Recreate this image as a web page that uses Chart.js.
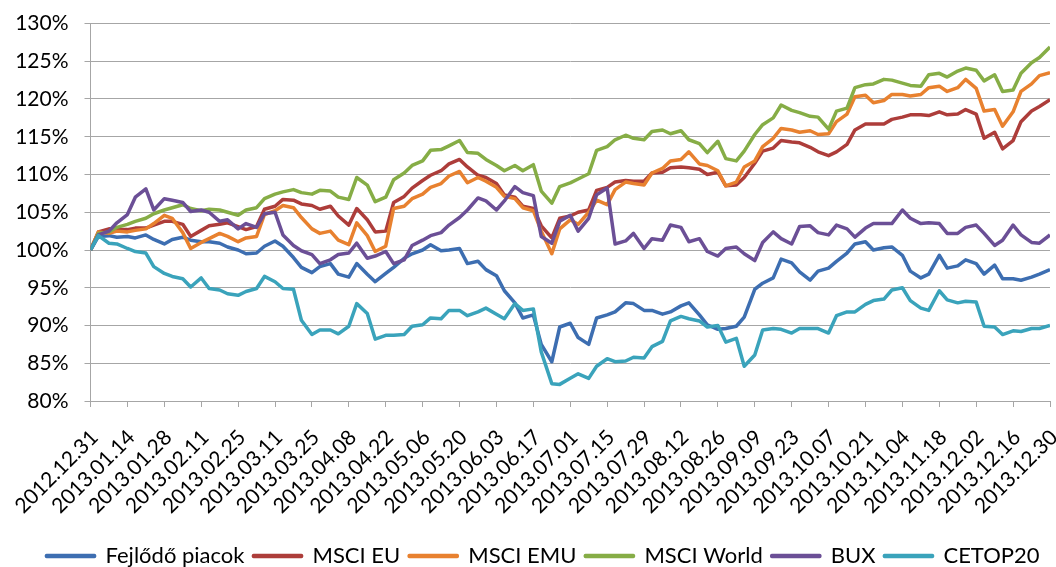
<!DOCTYPE html>
<html>
<head>
<meta charset="utf-8">
<script src="https://cdn.jsdelivr.net/npm/chart.js@4/dist/chart.umd.min.js"></script>
<style>
  body { margin: 0; background: #fff; }
  #wrap { width: 1056px; height: 567px; position: relative; }
</style>
</head>
<body>
<div id="wrap"><canvas id="lineChart"></canvas></div>
<script>
// tick labels on the x axis (every second Monday)
const tickLabels = [
  '2012.12.31', '2013.01.14', '2013.01.28', '2013.02.11', '2013.02.25', '2013.03.11',
  '2013.03.25', '2013.04.08', '2013.04.22', '2013.05.06', '2013.05.20', '2013.06.03',
  '2013.06.17', '2013.07.01', '2013.07.15', '2013.07.29', '2013.08.12', '2013.08.26',
  '2013.09.09', '2013.09.23', '2013.10.07', '2013.10.21', '2013.11.04', '2013.11.18',
  '2013.12.02', '2013.12.16', '2013.12.30'
];

// sample days (Mondays and Thursdays, counted from 2012.12.31)
const sampleDays = [];
for (let w = 0; w <= 52; w++) {
  sampleDays.push(w * 7);
  if (w < 52) sampleDays.push(w * 7 + 3);
}

const seriesNames = ['Fejlődő piacok', 'MSCI EU', 'MSCI EMU', 'MSCI World', 'BUX', 'CETOP20'];

const emerging = [
  100, 101.8, 101.9, 101.7, 101.8, 101.6, 102.0, 101.4, 100.8, 101.4, 101.7, 101.3, 101.1, 101.1, 100.9, 100.4, 100.0, 99.5, 99.6, 100.5, 101.2,
  100.5, 99.0, 97.7, 97.0, 97.8, 98.2, 96.8, 96.4, 98.2, 96.8, 95.8, 96.9, 97.7, 98.9, 99.5, 100.0, 100.7, 99.9, 100.0, 100.2, 98.2,
  98.5, 97.4, 96.6, 94.6, 93.0, 91.0, 91.4, 87.5, 85.2, 89.8, 90.3, 88.4, 87.5, 91.0, 91.4, 91.8, 93.0, 92.9, 92.0, 92.0,
  91.5, 91.8, 92.6, 93.0, 91.4, 90.1, 89.5, 89.6, 89.9, 91.1, 94.8, 95.6, 96.3, 98.8, 98.3, 97.1, 96.0, 97.2, 97.6, 98.5, 99.6,
  100.8, 101.1, 100.0, 100.3, 100.4, 99.3, 97.2, 96.3, 96.8, 99.3, 97.6, 97.9, 98.7, 98.2, 96.8, 98.0, 96.2, 96.2, 96.0, 96.4, 96.8, 97.4
];

const msciEu = [
  100, 102.4, 102.8, 102.7, 102.7, 102.9, 102.9, 103.3, 103.8, 103.8, 103.4, 101.8, 102.6, 103.2, 103.4, 103.6, 103.1, 102.7, 103.1, 105.4, 105.8,
  106.7, 106.6, 106.1, 105.9, 105.4, 105.8, 104.5, 103.3, 105.5, 104.0, 102.4, 102.5, 106.3, 107.1, 108.2, 109.2, 109.9, 110.5, 111.4, 112.0, 111.0,
  109.9, 109.6, 108.8, 107.3, 107.0, 105.8, 105.5, 103.2, 101.6, 104.2, 104.5, 105.0, 105.3, 107.9, 108.3, 109.0, 109.2, 109.1, 109.1, 110.2,
  110.3, 110.9, 111.0, 110.9, 110.7, 110.0, 110.3, 108.5, 108.6, 109.6, 111.5, 113.1, 113.5, 114.5, 114.3, 114.2, 113.6, 113.0, 112.5, 113.0, 114.0,
  115.9, 116.7, 116.7, 116.7, 117.3, 117.6, 117.9, 117.9, 117.8, 118.3, 117.9, 118.0, 118.6, 118.0, 114.8, 115.6, 113.4, 114.5, 117.0, 118.4, 119.0, 119.9
];

const msciEmu = [
  100, 102.4, 102.2, 102.5, 102.4, 102.6, 102.8, 103.5, 104.6, 104.2, 102.3, 100.2, 101.0, 101.5, 102.2, 101.8, 101.1, 101.6, 101.8, 104.7, 105.2,
  105.9, 105.6, 104.3, 102.8, 102.2, 102.5, 101.3, 100.7, 103.6, 101.9, 99.8, 100.5, 105.5, 105.8, 106.8, 107.4, 108.3, 108.8, 109.8, 110.4, 108.9,
  109.6, 109.1, 108.3, 107.1, 106.8, 105.6, 105.2, 102.5, 99.5, 102.8, 104.0, 103.4, 105.0, 106.6, 106.0, 108.0, 109.0, 108.8, 108.6, 110.2,
  110.8, 111.8, 112.0, 113.0, 111.4, 111.2, 110.5, 108.5, 109.0, 111.0, 111.8, 113.7, 114.8, 116.1, 115.9, 115.6, 115.8, 115.3, 115.4, 117.0, 118.0,
  120.3, 120.5, 119.5, 119.8, 120.6, 120.6, 120.4, 120.6, 121.5, 121.7, 121.0, 121.5, 122.6, 121.4, 118.4, 118.6, 116.4, 118.3, 121.0, 122.0, 123.1, 123.5
];

const msciWorld = [
  100, 102.2, 102.4, 103.0, 103.4, 103.8, 104.2, 104.8, 105.3, 105.6, 106.0, 105.5, 105.2, 105.4, 105.3, 105.0, 104.6, 105.3, 105.6, 106.8, 107.4,
  107.7, 108.0, 107.6, 107.4, 107.9, 107.8, 107.0, 106.7, 109.6, 108.6, 106.4, 107.0, 109.3, 110.2, 111.2, 111.8, 113.2, 113.3, 113.8, 114.5, 112.9,
  112.8, 112.0, 111.2, 110.5, 111.2, 110.5, 111.3, 107.8, 106.2, 108.4, 108.9, 109.4, 110.1, 113.2, 113.7, 114.6, 115.2, 114.8, 114.6, 115.7,
  115.9, 115.4, 115.8, 114.6, 114.1, 112.9, 114.4, 112.1, 111.8, 113.1, 115.3, 116.6, 117.5, 119.2, 118.5, 118.2, 117.7, 117.6, 116.0, 118.4, 118.8,
  121.5, 121.9, 122.0, 122.6, 122.5, 122.1, 121.8, 121.7, 123.2, 123.4, 122.9, 123.7, 124.1, 123.8, 122.4, 123.2, 121.0, 121.2, 123.4, 124.8, 125.5, 126.9
];

const bux = [
  100, 102.0, 102.5, 103.6, 104.7, 107.0, 108.1, 105.3, 106.8, 106.6, 106.3, 105.1, 105.3, 105.0, 103.8, 104.0, 102.8, 103.5, 103.0, 104.8, 105.0,
  102.0, 100.6, 99.9, 99.4, 98.2, 98.7, 99.4, 99.6, 100.9, 98.9, 99.2, 99.8, 98.2, 98.7, 100.6, 101.3, 101.9, 102.3, 103.3, 104.3, 105.3,
  106.9, 106.5, 105.3, 106.5, 108.4, 107.6, 107.2, 101.8, 100.9, 103.8, 104.6, 102.5, 104.2, 107.3, 108.2, 100.8, 101.2, 102.2, 100.2, 101.5,
  101.3, 103.3, 103.0, 101.1, 101.5, 99.8, 99.2, 100.2, 100.4, 99.5, 98.6, 101.0, 102.4, 101.5, 100.8, 103.1, 103.2, 102.3, 102.0, 103.3, 102.8,
  101.7, 102.9, 103.5, 103.5, 103.5, 105.3, 104.2, 103.5, 103.6, 103.5, 102.2, 102.2, 103.0, 103.3, 102.2, 100.6, 101.3, 103.3, 102.0, 101.0, 100.9, 102.0
];

const cetop20 = [
  100, 101.9, 100.9, 100.8, 100.2, 99.8, 99.6, 97.8, 96.9, 96.5, 96.2, 95.1, 96.3, 94.9, 94.7, 94.2, 94.0, 94.5, 94.9, 96.5, 95.8,
  94.9, 94.8, 90.7, 88.8, 89.4, 89.4, 88.9, 89.9, 92.9, 91.6, 88.2, 88.7, 88.7, 88.8, 89.9, 90.1, 91.0, 90.9, 92.0, 92.0, 91.3,
  91.8, 92.3, 91.5, 90.9, 92.9, 92.0, 92.2, 86.5, 82.3, 82.2, 83.0, 83.6, 83.0, 84.6, 85.6, 85.2, 85.3, 85.8, 85.7, 87.2,
  87.9, 90.6, 91.2, 90.9, 90.6, 89.8, 90.0, 87.8, 88.3, 84.6, 86.1, 89.4, 89.6, 89.5, 89.0, 89.6, 89.6, 89.6, 89.0, 91.3, 91.8,
  91.8, 92.8, 93.3, 93.5, 94.7, 95.0, 93.3, 92.3, 92.0, 94.6, 93.4, 93.0, 93.2, 93.1, 89.9, 89.8, 88.8, 89.3, 89.2, 89.6, 89.6, 90.0
];

const seriesValues = [emerging, msciEu, msciEmu, msciWorld, bux, cetop20];
const seriesColors = ['#3d6eb1', '#ad3d3a', '#e8812f', '#86ad46', '#6b4f96', '#3aa3bb'];

const FONT = 'Lato, "Open Sans", sans-serif';
const GRID = '#a6a6a6';

const datasets = seriesNames.map((name, k) => ({
  label: name,
  data: sampleDays.map((d, i) => ({ x: d, y: seriesValues[k][i] })),
  borderColor: seriesColors[k],
  backgroundColor: seriesColors[k],
  borderWidth: 3.5,
  pointRadius: 0,
  tension: 0,
  borderJoinStyle: 'round',
  order: seriesNames.length - k   // later series drawn on top, like the original
}));

// the original legend sits a bit right of the page centre
const legendShift = {
  id: 'legendShift',
  afterLayout(chart) {
    chart.legend.left += 18;
    chart.legend.right += 18;
  }
};

const config = {
  type: 'line',
  data: { datasets },
  plugins: [legendShift],
  options: {
    responsive: true,
    maintainAspectRatio: false,
    animation: false,
    layout: { padding: { top: 0, right: 6, left: 0, bottom: -10 } },
    scales: {
      x: {
        type: 'linear',
        min: 0,
        max: 364,
        afterFit: (s) => { s.height = 135; s.paddingLeft = 0; s.paddingRight = 0; },
        ticks: {
          stepSize: 14,
          autoSkip: false,
          maxRotation: 45,
          minRotation: 45,
          color: '#000',
          font: { family: FONT, size: 21 },
          padding: 18,
          labelOffset: 4,
          callback: (v) => tickLabels[Math.round(v / 14)]
        },
        grid: { drawOnChartArea: false, drawTicks: true, tickLength: 6, color: GRID },
        border: { color: GRID }
      },
      y: {
        min: 80,
        max: 130,
        // fixed axis width and top gap so the plot box matches the original
        afterFit: (s) => { s.width = 90.5; s.paddingTop = 23.5; },
        ticks: {
          stepSize: 5,
          color: '#000',
          font: { family: FONT, size: 21 },
          padding: 16,
          callback: (v) => v + '%'
        },
        grid: { color: GRID, tickLength: 6 },
        border: { color: GRID }
      }
    },
    plugins: {
      legend: {
        position: 'bottom',
        labels: {
          boxWidth: 48,
          boxHeight: 1,
          color: '#000',
          font: { family: FONT, size: 22 },
          padding: 9,
          sort: (a, b) => a.datasetIndex - b.datasetIndex
        }
      },
      tooltip: { enabled: false }
    }
  }
};

document.addEventListener('DOMContentLoaded', () => {
  new Chart(document.getElementById('lineChart').getContext('2d'), config);
});
</script>
</body>
</html>
